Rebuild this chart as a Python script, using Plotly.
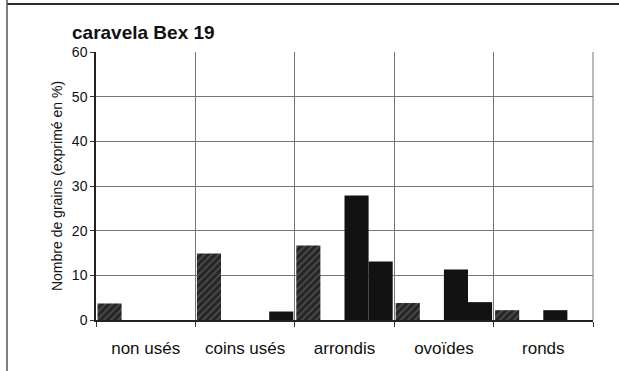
import plotly.graph_objects as go

categories = ["non usés", "coins usés", "arrondis", "ovoïdes", "ronds"]
serie_hachuree = [3.7, 14.9, 16.7, 3.8, 2.2]
serie_vide = [0, 0, 0, 0, 0]
serie_noire_1 = [0, 0, 27.9, 11.3, 2.2]
serie_noire_2 = [0, 1.9, 13.1, 4.0, 0]
y_ticks = [0, 10, 20, 30, 40, 50, 60]

W, H = 619, 371
L, R, T, B = 96, 26, 52, 51
PW, PH = W - L - R, H - T - B

fig = go.Figure()
fig.add_trace(go.Bar(x=categories, y=serie_hachuree, name="A",
                     marker=dict(color="#2a2a2a", line=dict(width=0),
                                 pattern=dict(shape="/", fgcolor="#7a7a7a", bgcolor="#262626",
                                              size=5, solidity=0.3))))
fig.add_trace(go.Bar(x=categories, y=serie_vide, name="B",
                     marker=dict(color="white", line=dict(width=0))))
fig.add_trace(go.Bar(x=categories, y=serie_noire_1, name="C",
                     marker=dict(color="#121212", line=dict(width=0))))
fig.add_trace(go.Bar(x=categories, y=serie_noire_2, name="D",
                     marker=dict(color="#121212", line=dict(width=0))))

fig.update_layout(
    width=W, height=H,
    margin=dict(l=L, r=R, t=T, b=B),
    paper_bgcolor="white", plot_bgcolor="white",
    barmode="group", bargap=0.03, bargroupgap=0,
    showlegend=False,
    font=dict(family="Liberation Sans, Arial, sans-serif", color="#111"),
    title=dict(text="<b>caravela Bex 19</b>", x=72/W, xanchor="left",
               y=1 - 32/H, yanchor="middle", font=dict(size=19, color="#111")),
    xaxis=dict(type="category", tickson="boundaries", showgrid=True, gridcolor="#777",
               gridwidth=1, ticks="outside", ticklen=5, tickcolor="#333",
               showline=True, linecolor="#222", linewidth=1.5, mirror=False,
               tickfont=dict(size=17, color="#111"), ticklabelstandoff=12,
               automargin=False),
    yaxis=dict(range=[0, 60], tickvals=y_ticks, showgrid=True, gridcolor="#777", gridwidth=1,
               ticks="outside", ticklen=4, tickcolor="#333",
               showline=True, linecolor="#222", linewidth=1.5,
               zeroline=False, tickfont=dict(size=14, color="#111"),
               automargin=False,
               title=dict(text="Nombre de grains (exprimé en %)", font=dict(size=14, color="#111"),
                          standoff=6)),
    shapes=[
        dict(type="line", xref="paper", yref="paper", x0=1, x1=1, y0=0, y1=1,
             line=dict(color="#777", width=1)),
        dict(type="line", xref="paper", yref="paper",
             x0=(7 - L)/PW, x1=(W - L)/PW, y0=1 + (T - 4)/PH, y1=1 + (T - 4)/PH,
             line=dict(color="#2a2a2a", width=2)),
        dict(type="line", xref="paper", yref="paper",
             x0=(7 - L)/PW, x1=(7 - L)/PW, y0=-B/PH, y1=1 + T/PH,
             line=dict(color="#555", width=1.5)),
    ],
)

fig.write_html("out.html", config={"displayModeBar": False},
               post_script="document.body.style.margin='0';")
